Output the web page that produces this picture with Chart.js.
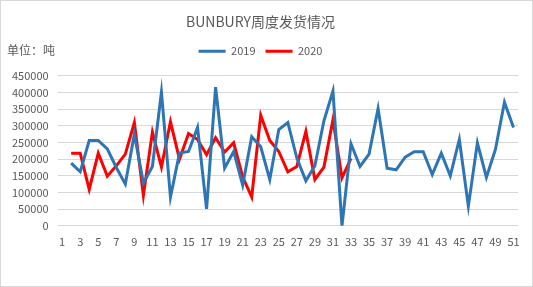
<!DOCTYPE html>
<html>
<head>
<meta charset="utf-8">
<script src="https://cdn.jsdelivr.net/npm/chart.js@4/dist/chart.umd.min.js"></script>
<style>
  body { margin: 0; background: #fff; }
  #wrap { position: relative; width: 533px; height: 287px; }
  #unit { position: absolute; left: 7px; top: 41px; font: 12px "Noto Sans CJK SC", sans-serif; color: #595959; }
</style>
</head>
<body>
<div id="wrap">
  <canvas id="chart" width="533" height="287"></canvas>
  <div id="unit">单位：吨</div>
</div>
<script>
// week numbers 1..51
var weeks = [];
for (var w = 1; w <= 51; w++) weeks.push(String(w));

// 2019 shipments (tons), week 1 empty
var ship2019 = [null, 188000, 162000, 256000, 256000, 231000, 175000, 125000, 275000, 128000,
  178000, 401000, 86000, 218000, 223000, 295000, 51000, 416000, 173000, 223000,
  122000, 267000, 237000, 139000, 289000, 310000, 203000, 135000, 180000, 315000,
  404000, 0, 246000, 178000, 215000, 352000, 173000, 168000, 206000, 222000,
  222000, 154000, 218000, 150000, 259000, 59000, 249000, 145000, 229000, 371000, 295000];

// 2020 shipments (tons), weeks 2..33
var ship2020 = [null, 218000, 218000, 109000, 218000, 149000, 180000, 215000, 310000, 91000,
  281000, 176000, 312000, 200000, 277000, 259000, 213000, 264000, 221000, 249000,
  147000, 86000, 332000, 256000, 223000, 162000, 178000, 283000, 139000, 176000,
  318000, 144000, 202000];

var yTicks = [0, 50000, 100000, 150000, 200000, 250000, 300000, 350000, 400000, 450000];

var font = "'Noto Sans CJK SC', sans-serif";
var grey = "#595959";

var frame = {
  id: "frame",
  beforeInit: function(chart) {
    // some extra room under the legend
    var fit = chart.legend.fit;
    chart.legend.fit = function() {
      fit.bind(chart.legend)();
      this.height += 9;
    };
  },
  afterDraw: function(chart) {
    var ctx = chart.ctx;
    ctx.save();
    ctx.strokeStyle = "#d9d9d9";
    ctx.lineWidth = 1;
    ctx.strokeRect(0.5, 0.5, chart.width - 1, chart.height - 1);
    ctx.restore();
  }
};

var ctx = document.getElementById("chart").getContext("2d");
new Chart(ctx, {
  type: "line",
  data: {
    labels: weeks,
    datasets: [{
      label: "2019",
      data: ship2019,
      borderColor: "#2e75b6",
      backgroundColor: "#2e75b6",
      borderWidth: 3,
      pointRadius: 0,
      tension: 0
    }, {
      label: "2020",
      data: ship2020,
      borderColor: "#ff0000",
      backgroundColor: "#ff0000",
      borderWidth: 3,
      pointRadius: 0,
      tension: 0
    }]
  },
  options: {
    responsive: false,
    animation: false,
    layout: { padding: { left: 3, right: 15, top: 0, bottom: 30 } },
    plugins: {
      title: {
        display: true,
        text: "BUNBURY周度发货情况",
        color: grey,
        font: { family: font, size: 14, weight: "normal" },
        padding: { top: 13, bottom: 6 }
      },
      legend: {
        display: true,
        labels: {
          color: grey,
          font: { family: font, size: 11 },
          usePointStyle: true,
          pointStyle: "line",
          pointStyleWidth: 27,
          padding: 10
        }
      },
      tooltip: { enabled: false }
    },
    scales: {
      x: {
        offset: true,
        grid: { display: false, drawTicks: false },
        border: { display: false },
        ticks: {
          color: grey,
          font: { family: font, size: 11 },
          autoSkip: false,
          maxRotation: 0,
          padding: 9,
          callback: function(v, i) { return i % 2 === 0 ? weeks[i] : ""; }
        }
      },
      y: {
        min: yTicks[0],
        max: yTicks[yTicks.length - 1],
        grid: { color: "#d9d9d9", drawTicks: false },
        border: { display: false },
        ticks: {
          autoSkip: false,
          color: grey,
          font: { family: font, size: 11 },
          padding: 9,
          callback: function(v) { return String(v); }
        },
        afterBuildTicks: function(axis) {
          axis.ticks = yTicks.map(function(v) { return { value: v }; });
        }
      }
    }
  },
  plugins: [frame]
});
</script>
</body>
</html>
